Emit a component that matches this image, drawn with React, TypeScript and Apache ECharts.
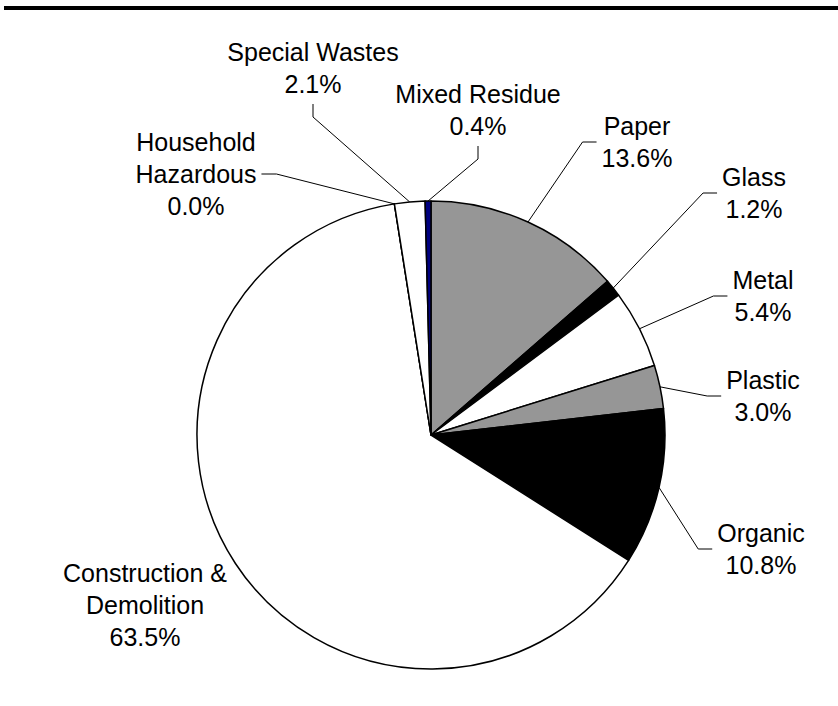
import React, { useEffect, useRef } from "react";
import * as echarts from "echarts";

const CATEGORIES = [
  "Paper",
  "Glass",
  "Metal",
  "Plastic",
  "Organic",
  "Construction &\nDemolition",
  "Household\nHazardous",
  "Special Wastes",
  "Mixed Residue",
];
const VALUES = [13.6, 1.2, 5.4, 3.0, 10.8, 63.5, 0.0, 2.1, 0.4];
const COLORS = [
  "#969696",
  "#000000",
  "#ffffff",
  "#969696",
  "#000000",
  "#ffffff",
  "#ffffff",
  "#ffffff",
  "#000080",
];

// label block centres and leader side (layout only)
const LABEL_POS: [number, number, string][] = [
  [637, 142, "right"],
  [754, 193, "right"],
  [763, 296, "right"],
  [763, 396, "right"],
  [761, 549, "right"],
  [145, 605, "none"],
  [196, 174, "left"],
  [313, 68, "top"],
  [478, 110, "top"],
];

const CX = 431;
const CY = 435;
const R = 234;

export default function App() {
  const ref = useRef<HTMLDivElement>(null);
  useEffect(() => {
    if (!ref.current) return;
    const chart = echarts.init(ref.current, null, { renderer: "svg" });
    const total = VALUES.reduce((a, b) => a + b, 0);
    const cum: number[] = [];
    let acc = 0;
    VALUES.forEach((v) => {
      cum.push(acc + v / 2);
      acc += v;
    });
    chart.setOption({
      animation: false,
      backgroundColor: "#ffffff",
      graphic: [
        {
          type: "rect",
          shape: { x: 4, y: 6, width: 834, height: 4 },
          style: { fill: "#000000" },
        },
      ],
      series: [
        {
          type: "pie",
          center: [CX, CY],
          radius: R,
          startAngle: 90,
          clockwise: true,
          avoidLabelOverlap: false,
          silent: true,
          itemStyle: { borderColor: "#000000", borderWidth: 1.5 },
          label: {
            show: true,
            position: "outside",
            color: "#000000",
            fontFamily: "'Liberation Sans', Arial, sans-serif",
            fontSize: 25,
            lineHeight: 32,
            align: "center",
            formatter: (p: any) => `${p.name}\n${Number(p.value).toFixed(1)}%`,
          },
          labelLine: {
            show: true,
            length: 10,
            length2: 10,
            lineStyle: { color: "#000000", width: 1 },
          },
          labelLayout: (params: any) => {
            const i = params.dataIndex;
            const [x, y, side] = LABEL_POS[i];
            const w = params.labelRect.width;
            const h = params.labelRect.height;
            const ang = (90 - (cum[i] / total) * 360) * (Math.PI / 180);
            const anchor =
              params.labelLinePoints && params.labelLinePoints[0]
                ? params.labelLinePoints[0]
                : [CX + R * Math.cos(ang), CY - R * Math.sin(ang)];
            let pts: number[][] | undefined;
            if (side === "right") {
              const ex = x - w / 2 - 5;
              pts = [anchor, [ex - 14, y], [ex, y]];
            } else if (side === "left") {
              const ex = x + w / 2 + 5;
              pts = [anchor, [ex + 15, y], [ex, y]];
            } else if (side === "top") {
              const by = y + h / 2;
              pts = [anchor, [x, by + 17], [x, by + 4]];
            }
            const out: any = { x, y, align: "center", verticalAlign: "middle" };
            if (pts) out.labelLinePoints = pts;
            return out;
          },
          data: CATEGORIES.map((name, i) => ({
            name,
            value: VALUES[i],
            itemStyle: { color: COLORS[i] },
            labelLine: { show: LABEL_POS[i][2] !== "none" },
          })),
        },
      ],
    });
    return () => chart.dispose();
  }, []);
  return (
    <div
      ref={ref}
      style={{ position: "absolute", left: 0, top: 0, width: 838, height: 706 }}
    />
  );
}
